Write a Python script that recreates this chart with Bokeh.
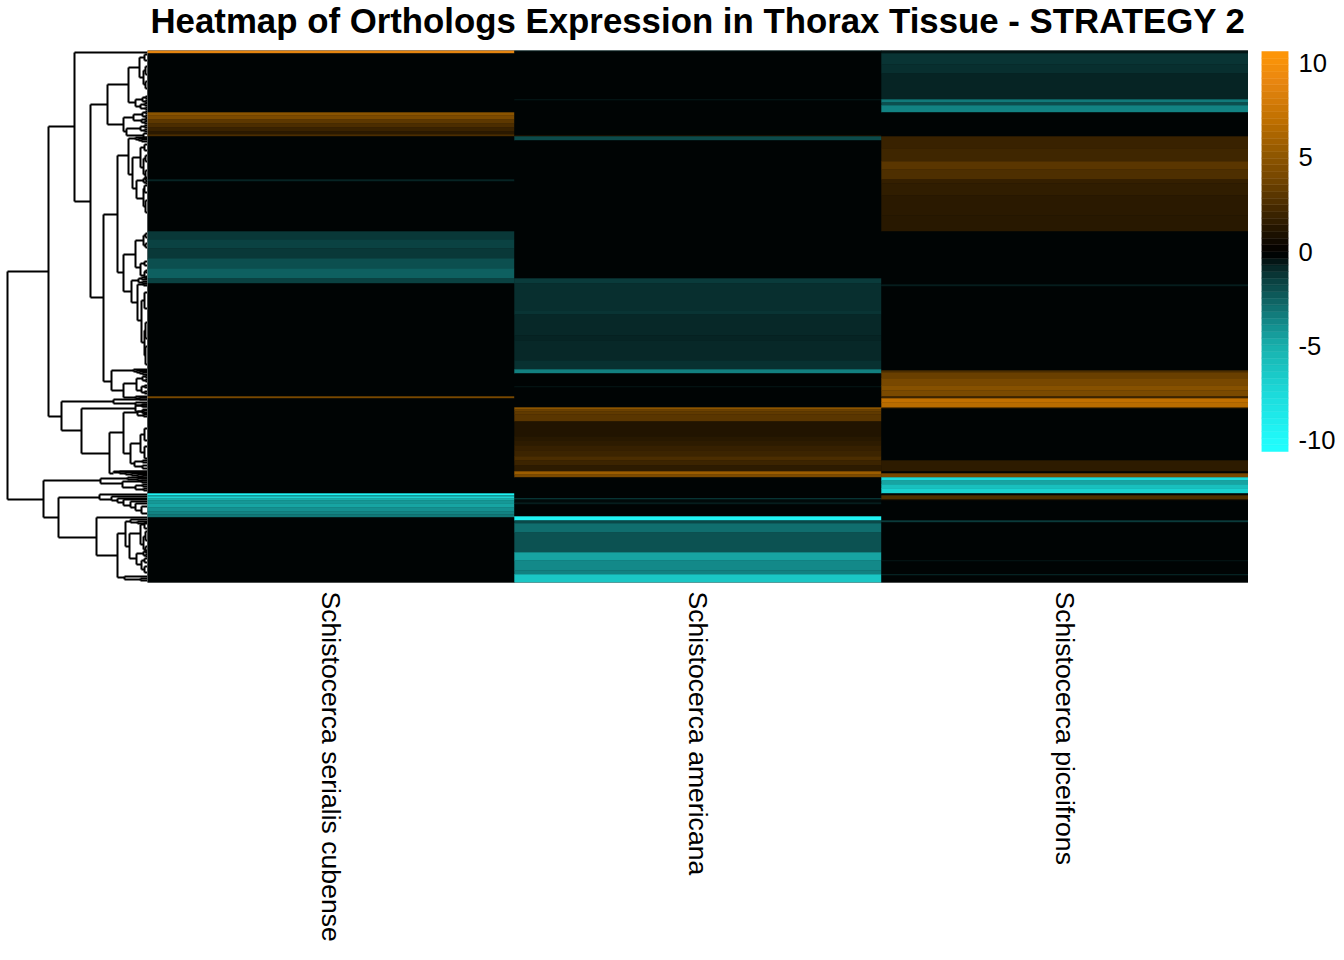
import math
import numpy as np
from bokeh.embed import file_html
from bokeh.resources import INLINE
from bokeh.layouts import row, column
from bokeh.models import ColumnDataSource, FactorRange, Range1d, FixedTicker, LinearColorMapper, Label
from bokeh.plotting import figure
from bokeh.transform import transform

TITLE = "Heatmap of Orthologs Expression in Thorax Tissue - STRATEGY 2"
species = ["Schistocerca serialis cubense", "Schistocerca americana", "Schistocerca piceifrons"]

# row edges (row index from the top of the matrix) and expression value of each band
serialis_edges = [50,53,112,115,119,123,127,131,134,136,179,181,231,239,248,258,268,278,283,396,398,493,495,496,498,500,503,507,511,514,517,582]
serialis_values = [8.8,-0.2,4.9,4.1,3.1,2.5,1.9,1.4,2.5,-0.2,-0.8,-0.2,-1.3,-1.6,-1.3,-2.0,-2.5,-1.6,-0.2,4.0,-0.2,-9.6,-4.0,-7.0,-5.0,-4.2,-4.6,-4.0,-3.6,-3.2,-0.2]
americana_edges = [50,51,99,100,135,136,140,278,283,310,314,335,340,360,369,373,386,387,407,409,411,414,421,436,440,445,450,456,460,465,471,474,477,498,499,502,504,516,520,523,532,552,560,570,574,582]
americana_values = [-1.2,-0.2,-0.7,-0.2,1.2,-1.9,-0.2,-1.4,-1.0,-1.2,-0.9,-0.8,-0.9,-1.1,-3.5,-0.2,-0.6,-0.2,5.0,3.6,3.2,3.0,1.1,1.3,1.5,1.8,2.0,2.5,2.0,1.5,5.6,4.1,-0.2,-1.8,-0.3,-0.7,-0.2,-9.6,-1.8,-2.9,-2.1,-4.6,-3.8,-3.5,-6.3]
piceifrons_edges = [50,53,64,73,99,102,105,112,136,148,161,169,179,183,195,215,231,284,286,370,372,378,385,390,396,398,402,407,408,460,471,473,477,480,484,488,493,495,499,500,520,522,560,561,574,575,582]
piceifrons_values = [-0.5,-1.2,-1.0,-0.8,-3.3,-2.0,-3.6,-0.2,1.9,2.1,3.0,2.6,1.7,1.6,1.4,1.35,-0.2,-0.7,-0.2,2.5,3.5,4.0,4.7,4.1,2.0,7.0,6.7,3.0,-0.2,1.5,-0.2,4.0,-7.6,-4.6,-5.9,-7.0,-0.2,2.6,1.0,-0.2,-1.4,-0.2,-0.6,-0.2,-1.0,-0.2]

# colour scale
stop_values = [-10.6,-10,-7.5,-5,-4,-3,-2,-1,-0.2,0,1,2,3,4,5,7,9,10.6]
stop_colors = ["#20FFFF","#21F9F9","#1CDADA","#18B0AC","#149090","#107070","#0C4F4F","#082E2E","#000404","#000000",
               "#1E1200","#3C2400","#5A3600","#784800","#8C5500","#C07000","#E88610","#FF9706"]
legend_ticks = [-10,-5,0,5,10]
legend_labels = ["-10","-5","0","5","10"]

# dendrogram: (height, row, child, child...); a bare number is a leaf at that row
dendrogram = (140,385,
 (99,271,
  (73,126,
   52,
   (57,201,
    (40,104,
     (19,84,
      (8,67,(3,57,54,60),(4,77,(2,70,66,74),(2,84,81,88))),
      (12,102,(5,99,(2,97,96,98),(2,101,100,102)),(7,106,(3,104,103,105),(2,108,107,109)))),
     (24,124,
      (14,117,(5,114,(2,112,111,113),(2,116,115,117)),(6,120,(2,119,118,120),(3,122,121,123))),
      (21,131,(7,128,(3,126,125,127),(3,130,129,131)),(4,135,133,137)))),
    (44,297,
     (30,214,
      (19,155,
       (12,138,137,(9,139,138,(6,140,139,141))),
       (15,174,
        (7,157,(3,147,144,150),(4,167,(2,158,155,161),(2,174,170,178))),
        (11,188,(4,180,(2,178,177,180),(2,182,181,183)),(4,198,(3,188,185,192),(2,206,200,212))))),
      (24,272,
       (12,254,
        (4,240,(2,235,233,237),(2,245,243,247)),
        (7,267,(3,263,261,265),(3,275,(2,271,270,272),(2,277,276,278)))),
       (16,291,
        (9,280,(6,278,277,279),(5,282,281,283)),
        (10,302,(4,284,283,285),
         (6,320,(3,300,292,308),(3,342,(2,330,322,338),(2,355,346,364))))))),
     (36,381,
      (14,370,369,(11,371,370,(8,372,371,(5,373,372,374)))),
      (24,390,
       (11,383,(5,378,(2,376,375,377),(2,380,379,381)),(6,390,(3,386,385,387),(3,392,391,393))),
       (12,397,396,(8,398,397,399)))))))
  ,
  (86,416,
   (34,401,399,(12,403,402,(6,405,404,406))),
   (66,430,
    (12,408,(5,405,404,406),(5,411,409,413)),
    (38,453,
     (24,432,
      (10,412,(4,411,410,412),(4,415,414,416)),
      (17,453,
       (7,443,(3,434,428,440),(3,452,446,458)),
       (13,463,(5,461,460,462),(5,466,465,468)))),
     (34,473,471,(28,472,471,(22,473,472,(16,474,473,(10,475,474,(5,476,475,477))))))))))
 ,
 (104,499,
  (47,480,
   (20,478,477,(10,479,478,480)),
   (25,483,(6,481,480,482),(12,487,(5,485,484,486),(4,489,488,490)))),
  (89,517,
   (48,497,
    494,
    (36,499,496,(30,500,498,(24,502,499,(17,505,501,(12,507,503,(6,510,506,513)))))))
   ,
   (51,537,
    517,
    (30,555,
     (22,533,
      (17,521,519,(10,522,521,523)),
      (18,546,
       (7,533,(3,524,522,528),(4,544,(2,536,531,540),(2,549,546,552))),
       (11,558,(4,553,(2,551,550,552),(2,555,554,556)),(6,564,(3,560,558,562),(3,569,566,572))))),
     (23,577,576,(7,579,578,580)))))))

LABEL_FONT = "Liberation Sans"
TITLE_H = 50
BODY_H = 900
FRAME_H = 532
BOTTOM = BODY_H - FRAME_H


def to_rgb(h):
    return [int(h[i:i+2], 16) for i in (1, 3, 5)]


stops_rgb = np.array([to_rgb(c) for c in stop_colors], dtype=float)
palette_values = np.linspace(stop_values[0], stop_values[-1], 512)
palette = ["#%02x%02x%02x" % tuple(int(round(np.interp(v, stop_values, stops_rgb[:, k]))) for k in range(3))
           for v in palette_values]
mapper = LinearColorMapper(palette=palette, low=stop_values[0], high=stop_values[-1])

# title strip
head = figure(width=1344, height=TITLE_H, output_backend="svg", toolbar_location=None,
              x_range=Range1d(0, 1344), y_range=Range1d(TITLE_H, 0),
              min_border_left=0, min_border_right=0, min_border_top=0, min_border_bottom=0)
head.axis.visible = False
head.grid.visible = False
head.outline_line_color = None
head.add_layout(Label(x=697.5, y=20, text=TITLE, text_align="center", text_baseline="alphabetic",
                      text_font=LABEL_FONT, text_font_style="bold", text_font_size="34.8px",
                      text_color="#000000"))

# heat map
cols = {"x": [], "top": [], "bottom": [], "value": []}
for name, edges, values in zip(species,
                               (serialis_edges, americana_edges, piceifrons_edges),
                               (serialis_values, americana_values, piceifrons_values)):
    for i, v in enumerate(values):
        cols["x"].append(name)
        cols["top"].append(edges[i])
        cols["bottom"].append(edges[i + 1])
        cols["value"].append(v)

heat = figure(width=1101, height=BODY_H, output_backend="svg", toolbar_location=None,
              x_range=FactorRange(*species, range_padding=0, factor_padding=0),
              y_range=Range1d(582, 50),
              min_border_left=0, min_border_right=0, min_border_top=0, min_border_bottom=BOTTOM)
heat.vbar(x="x", top="top", bottom="bottom", width=1.0, source=ColumnDataSource(cols),
          fill_color=transform("value", mapper), line_color=transform("value", mapper), line_width=0.4)
heat.background_fill_color = "#000404"
heat.outline_line_color = None
heat.grid.visible = False
heat.yaxis.visible = False
heat.xaxis.axis_line_color = None
heat.xaxis.major_tick_line_color = None
heat.xaxis.minor_tick_line_color = None
heat.xaxis.major_label_orientation = -math.pi / 2
heat.xaxis.major_label_text_font = LABEL_FONT
heat.xaxis.major_label_text_font_size = "26.6px"
heat.xaxis.major_label_text_color = "#000000"
heat.xaxis.major_label_standoff = 3
heat.title = None

# dendrogram
seg = {"x0": [], "y0": [], "x1": [], "y1": []}


def walk(node, parent_h=None):
    if isinstance(node, tuple):
        h, y = node[0], node[1]
    else:
        h, y = 0, node
    if parent_h is not None:
        seg["x0"].append(parent_h); seg["y0"].append(y)
        seg["x1"].append(h); seg["y1"].append(y)
    if isinstance(node, tuple):
        kids = node[2:]
        ys = [k[1] if isinstance(k, tuple) else k for k in kids]
        seg["x0"].append(h); seg["y0"].append(min(ys))
        seg["x1"].append(h); seg["y1"].append(max(ys))
        for k in kids:
            walk(k, h)


walk(dendrogram)
dend = figure(width=147, height=BODY_H, output_backend="svg", toolbar_location=None,
              x_range=Range1d(147, 0), y_range=Range1d(582, 50),
              min_border_left=0, min_border_right=0, min_border_top=0, min_border_bottom=BOTTOM)
dend.segment("x0", "y0", "x1", "y1", source=ColumnDataSource(seg), line_color="#000000", line_width=2)
dend.axis.visible = False
dend.grid.visible = False
dend.outline_line_color = None

# colour legend: bar of 400 px inside the taller frame
legend_edges = np.linspace(stop_values[0], stop_values[-1], 61)
per_px = (stop_values[-1] - stop_values[0]) / 400
leg = ColumnDataSource(dict(bottom=legend_edges[:-1], top=legend_edges[1:],
                            value=(legend_edges[:-1] + legend_edges[1:]) / 2))
cbar = figure(width=96, height=BODY_H, output_backend="svg", toolbar_location=None,
              x_range=Range1d(0, 1),
              y_range=Range1d(stop_values[-1] + per_px - per_px * FRAME_H, stop_values[-1] + per_px),
              y_axis_location="right",
              min_border_left=13, min_border_right=56, min_border_top=0, min_border_bottom=BOTTOM)
cbar.quad(left=0, right=1, bottom="bottom", top="top", source=leg,
          fill_color=transform("value", mapper), line_color=transform("value", mapper), line_width=0.5)
cbar.outline_line_color = None
cbar.grid.visible = False
cbar.xaxis.visible = False
cbar.yaxis.ticker = FixedTicker(ticks=legend_ticks)
cbar.yaxis.major_label_overrides = {t: s for t, s in zip(legend_ticks, legend_labels)}
cbar.yaxis.axis_line_color = None
cbar.yaxis.major_tick_line_color = None
cbar.yaxis.minor_tick_line_color = None
cbar.yaxis.major_label_standoff = 4
cbar.yaxis.major_label_text_font = LABEL_FONT
cbar.yaxis.major_label_text_font_size = "25.6px"
cbar.yaxis.major_label_text_color = "#000000"

page = column(head, row(dend, heat, cbar, spacing=0), spacing=0)
open("out.html", "w").write(file_html(page, INLINE))
